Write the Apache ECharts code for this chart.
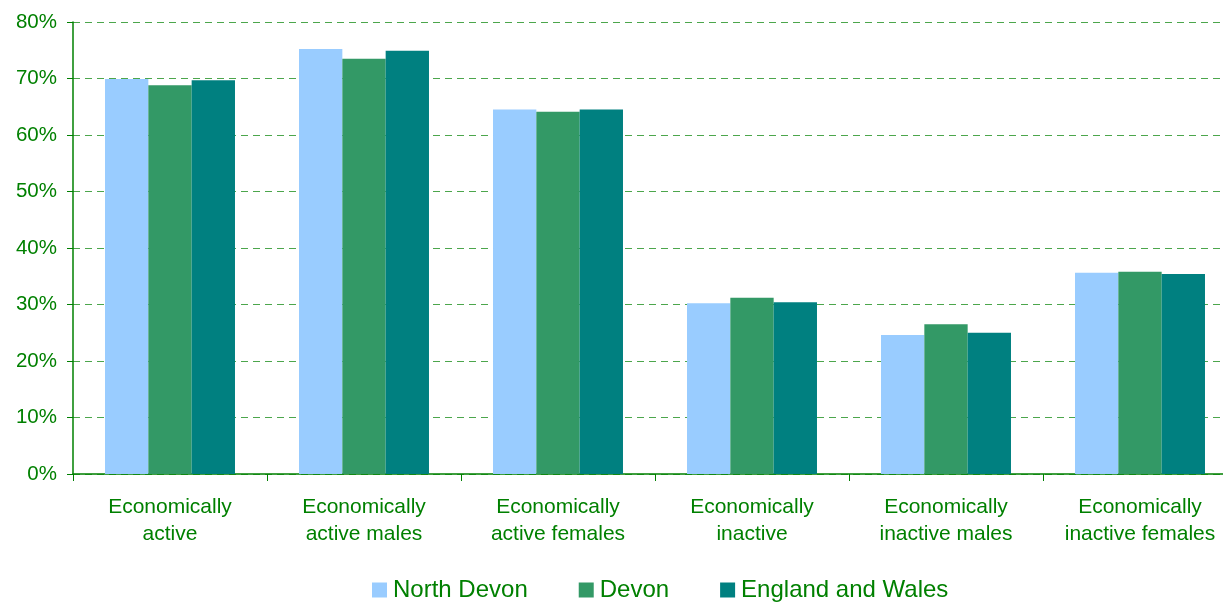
<!DOCTYPE html>
<html>
<head>
<meta charset="utf-8">
<script src="https://cdn.jsdelivr.net/npm/echarts@6/dist/echarts.min.js"></script>
<style>
  html, body { margin: 0; padding: 0; background: #fff; overflow: hidden; }
  /* the original plot runs a little past the right edge of the picture */
  #chart { width: 1237px; height: 602px; }
</style>
</head>
<body>
<div id="chart"></div>
<script>
// categories on the x axis
const categories = [
  'Economically\nactive',
  'Economically\nactive males',
  'Economically\nactive females',
  'Economically\ninactive',
  'Economically\ninactive males',
  'Economically\ninactive females'
]
// percentage values
const northDevon = [69.9, 75.2, 64.5, 30.2, 24.6, 35.6]
const devon = [68.8, 73.5, 64.1, 31.2, 26.5, 35.8]
const englandWales = [69.7, 74.9, 64.5, 30.4, 25.0, 35.4]
const seriesNames = ['North Devon', 'Devon', 'England and Wales']
const seriesColors = ['#99ccff', '#339966', '#008080']

const green = '#008000'
const font = '"Liberation Sans", Arial, sans-serif'

const chart = echarts.init(document.getElementById('chart'))

const makeBar = (name, data, color) => ({
  name : name,
  type : 'bar',
  data : data,
  barGap : '0%',
  barCategoryGap : '33%',
  itemStyle : { color : color },
  emphasis : { disabled : true }
})

const option = {
  animation : false,
  textStyle : { fontFamily : font },
  grid : {
    left : 73,
    top : 22,
    right : 0,
    bottom : 128
  },
  legend : {
    left : 372,
    top : 578,
    padding : 0,
    itemWidth : 15,
    itemHeight : 15,
    itemGap : 51,
    icon : 'rect',
    textStyle : {
      color : green,
      fontSize : 24,
      fontFamily : font,
      padding : [0, 0, 0, 1]
    },
    data : seriesNames
  },
  xAxis : {
    type : 'category',
    data : categories,
    axisLine : { lineStyle : { color : green, width : 1.5 } },
    axisTick : { show : true, length : 7, lineStyle : { color : green } },
    axisLabel : {
      color : green,
      fontSize : 21,
      fontFamily : font,
      lineHeight : 27,
      margin : 20,
      interval : 0
    }
  },
  yAxis : {
    type : 'value',
    min : 0,
    max : 80,
    interval : 10,
    axisLine : { show : true, lineStyle : { color : green, width : 1.5 } },
    axisTick : { show : true, length : 6, lineStyle : { color : green } },
    axisLabel : {
      color : green,
      fontSize : 20.5,
      fontFamily : font,
      margin : 16,
      formatter : '{value}%'
    },
    splitLine : {
      show : true,
      lineStyle : { color : '#4ca64c', type : [7, 5], width : 1 }
    }
  },
  series : [
    makeBar(seriesNames[0], northDevon, seriesColors[0]),
    makeBar(seriesNames[1], devon, seriesColors[1]),
    makeBar(seriesNames[2], englandWales, seriesColors[2])
  ]
}

chart.setOption(option)
</script>
</body>
</html>
